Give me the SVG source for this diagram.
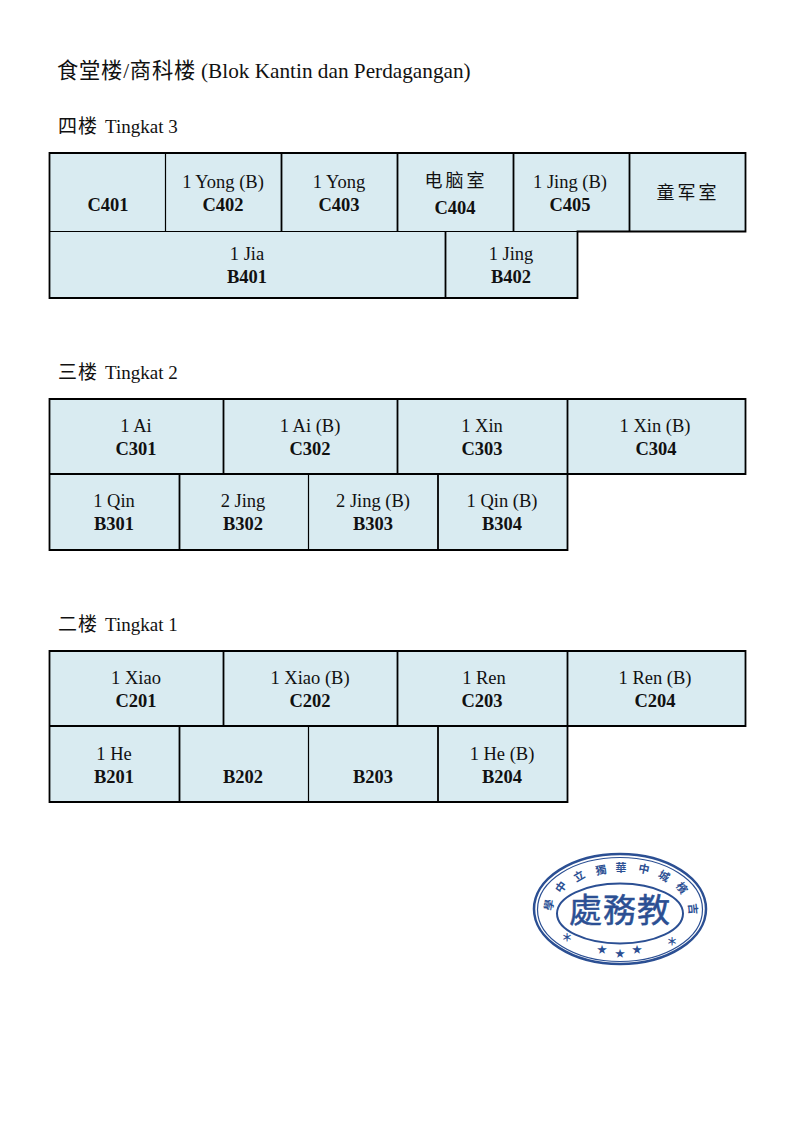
<svg xmlns="http://www.w3.org/2000/svg" width="794" height="1123" viewBox="0 0 794 1123">
<style>
text{font-family:"Liberation Serif","Noto Sans CJK SC",serif;fill:#111}
.h{font-size:19px}
.n{font-size:18.500px;text-anchor:middle}
.b{font-size:18.500px;font-weight:bold;text-anchor:middle;transform:translateY(.5px)}
.z{font-size:18px;text-anchor:middle;letter-spacing:3px}
.c{fill:#d9ebf1;stroke:none}
.g{fill:none;stroke:#000;stroke-width:1.800}
.f{fill:none;stroke:#000;stroke-width:1.200}
.s{fill:none;stroke:#2b4f93}
.st{fill:#2b4f93;font-family:"Noto Sans CJK TC","Liberation Serif",serif;text-anchor:middle;font-weight:bold}
.m{font-weight:normal;stroke:#2b4f93;stroke-width:.5px}
</style>
<rect x="0" y="0" width="794" height="1123" fill="#fff"/>
<text x="57" y="78" style="font-size:21.250px;letter-spacing:.8px">食堂楼/商科楼<tspan x="201" style="letter-spacing:0">(Blok Kantin dan Perdagangan)</tspan></text>
<text class="h" x="58" y="133" style="letter-spacing:1px">四楼<tspan x="105" style="letter-spacing:0">Tingkat 3</tspan></text>
<text class="h" x="58" y="379" style="letter-spacing:1px">三楼<tspan x="105" style="letter-spacing:0">Tingkat 2</tspan></text>
<text class="h" x="58" y="631" style="letter-spacing:1px">二楼<tspan x="105" style="letter-spacing:0">Tingkat 1</tspan></text>

<g id="C401"><rect class="c" x="50" y="153" width="116" height="78"/><text class="b" x="108" y="210">C401</text></g>
<g id="C402"><rect class="c" x="166" y="153" width="116" height="78"/><text class="n" x="223" y="188">1 Yong (B)</text><text class="b" x="223" y="210">C402</text></g>
<g id="C403"><rect class="c" x="282" y="153" width="116" height="78"/><text class="n" x="339" y="188">1 Yong</text><text class="b" x="339" y="210">C403</text></g>
<g id="C404"><rect class="c" x="398" y="153" width="116" height="78"/><text class="z" x="456" y="187">电脑室</text><text class="b" x="455" y="213">C404</text></g>
<g id="C405"><rect class="c" x="514" y="153" width="116" height="78"/><text class="n" x="570" y="188">1 Jing (B)</text><text class="b" x="570" y="210">C405</text></g>
<g id="C406"><rect class="c" x="630" y="153" width="116" height="78"/><text class="z" x="688" y="199">童军室</text></g>
<g id="B401"><rect class="c" x="50" y="231" width="396" height="67"/><text class="n" x="247" y="260">1 Jia</text><text class="b" x="247" y="282">B401</text></g>
<g id="B402"><rect class="c" x="446" y="231" width="132" height="67"/><text class="n" x="511" y="260">1 Jing</text><text class="b" x="511" y="282">B402</text></g>

<g id="C301"><rect class="c" x="50" y="399" width="174" height="75"/><text class="n" x="136" y="432">1 Ai</text><text class="b" x="136" y="454">C301</text></g>
<g id="C302"><rect class="c" x="224" y="399" width="174" height="75"/><text class="n" x="310" y="432">1 Ai (B)</text><text class="b" x="310" y="454">C302</text></g>
<g id="C303"><rect class="c" x="398" y="399" width="170" height="75"/><text class="n" x="482" y="432">1 Xin</text><text class="b" x="482" y="454">C303</text></g>
<g id="C304"><rect class="c" x="568" y="399" width="178" height="75"/><text class="n" x="655" y="432">1 Xin (B)</text><text class="b" x="656" y="454">C304</text></g>
<g id="B301"><rect class="c" x="50" y="474" width="130" height="76"/><text class="n" x="114" y="507">1 Qin</text><text class="b" x="114" y="529">B301</text></g>
<g id="B302"><rect class="c" x="180" y="474" width="129" height="76"/><text class="n" x="243" y="507">2 Jing</text><text class="b" x="243" y="529">B302</text></g>
<g id="B303"><rect class="c" x="309" y="474" width="129" height="76"/><text class="n" x="373" y="507">2 Jing (B)</text><text class="b" x="373" y="529">B303</text></g>
<g id="B304"><rect class="c" x="438" y="474" width="130" height="76"/><text class="n" x="502" y="507">1 Qin (B)</text><text class="b" x="502" y="529">B304</text></g>

<g id="C201"><rect class="c" x="50" y="651" width="174" height="75"/><text class="n" x="136" y="684">1 Xiao</text><text class="b" x="136" y="706">C201</text></g>
<g id="C202"><rect class="c" x="224" y="651" width="174" height="75"/><text class="n" x="310" y="684">1 Xiao (B)</text><text class="b" x="310" y="706">C202</text></g>
<g id="C203"><rect class="c" x="398" y="651" width="170" height="75"/><text class="n" x="484" y="684">1 Ren</text><text class="b" x="482" y="706">C203</text></g>
<g id="C204"><rect class="c" x="568" y="651" width="178" height="75"/><text class="n" x="655" y="684">1 Ren (B)</text><text class="b" x="655" y="706">C204</text></g>
<g id="B201"><rect class="c" x="50" y="726" width="130" height="76"/><text class="n" x="114" y="760">1 He</text><text class="b" x="114" y="782">B201</text></g>
<g id="B202"><rect class="c" x="180" y="726" width="129" height="76"/><text class="b" x="243" y="782">B202</text></g>
<g id="B203"><rect class="c" x="309" y="726" width="129" height="76"/><text class="b" x="373" y="782">B203</text></g>
<g id="B204"><rect class="c" x="438" y="726" width="130" height="76"/><text class="n" x="502" y="760">1 He (B)</text><text class="b" x="502" y="782">B204</text></g>

<g id="grid">
<path class="g" d="M49.500 153H745.500V231.500H577.500V298H49.500ZM281.500 153V231M397.500 153V231M513.500 153V231M629.500 153V231M445.500 231V298"/>
<path class="f" d="M165.500 153V231M49.500 231.500H577.500"/>
<path class="g" d="M49.500 399H745.500V474H567.500V550H49.500ZM223.500 399V474M397.500 399V474M567.500 399V474M49.500 474H567.500M179.500 474V550M438 474V550"/>
<path class="f" d="M308.500 474V550"/>
<path class="g" d="M49.500 651H745.500V726H567.500V802H49.500ZM223.500 651V726M397.500 651V726M567.500 651V726M49.500 726H567.500M179.500 726V802M438 726V802"/>
<path class="f" d="M308.500 726V802"/>
</g>

<g id="seal">
<ellipse class="s" cx="620" cy="909" rx="86" ry="55" stroke-width="2.500"/>
<ellipse class="s" cx="620" cy="909.500" rx="82.500" ry="52" stroke-width="1.200"/>
<ellipse class="s" cx="620" cy="913.500" rx="63" ry="30" stroke-width="2"/>
<text class="st m" x="620" y="922" font-size="33" style="letter-spacing:1px">處務教</text>
<g font-size="11">
<text class="st" transform="translate(549,905) rotate(-80)" dy="4">學</text>
<text class="st" transform="translate(561,887) rotate(-55)" dy="4">中</text>
<text class="st" transform="translate(579,876) rotate(-30)" dy="4">立</text>
<text class="st" transform="translate(601,870) rotate(-10)" dy="4">獨</text>
<text class="st" transform="translate(621,868)" dy="4">華</text>
<text class="st" transform="translate(644,869) rotate(12)" dy="4">中</text>
<text class="st" transform="translate(664,876) rotate(30)" dy="4">城</text>
<text class="st" transform="translate(682,888) rotate(55)" dy="4">檳</text>
<text class="st" transform="translate(693,909) rotate(85)" dy="4">吉</text>
</g>
<g font-size="11">
<text class="st" x="567" y="942">＊</text><text class="st" x="672" y="946">＊</text>
</g>
<g font-size="10">
<text class="st" x="602" y="953">★</text><text class="st" x="620" y="957">★</text><text class="st" x="637" y="953">★</text>
</g>
</g>
</svg>
